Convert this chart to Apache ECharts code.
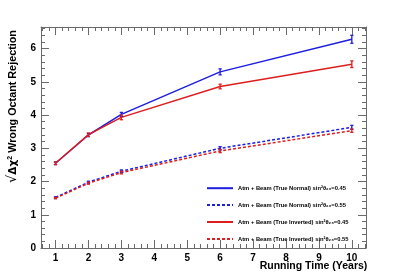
<!DOCTYPE html>
<html><head><meta charset="utf-8">
<script src="https://cdn.jsdelivr.net/npm/echarts@6/dist/echarts.min.js"></script>
<style>html,body{margin:0;padding:0;background:#fff}#c{width:407px;height:276px}</style>
</head><body><div id="c"></div>
<script>
const years = [1, 2, 3, 6, 10];
const nh45 = [2.55, 3.40, 4.02, 5.30, 6.28];
const nh45Err = [0.04, 0.05, 0.06, 0.09, 0.12];
const nh55 = [1.52, 1.98, 2.31, 3.00, 3.63];
const nh55Err = [0.02, 0.03, 0.04, 0.05, 0.06];
const ih45 = [2.55, 3.41, 3.93, 4.86, 5.53];
const ih45Err = [0.04, 0.05, 0.07, 0.07, 0.10];
const ih55 = [1.50, 1.95, 2.27, 2.92, 3.53];
const ih55Err = [0.02, 0.03, 0.04, 0.05, 0.05];
const xMajor = [1,2,3,4,5,6,7,8,9,10];
const yMajor = [0,1,2,3,4,5,6];
const names = [
  'Atm + Beam (True Normal) sin²θ₂₃=0.45',
  'Atm + Beam (True Normal) sin²θ₂₃=0.55',
  'Atm + Beam (True Inverted) sin²θ₂₃=0.45',
  'Atm + Beam (True Inverted) sin²θ₂₃=0.55'
];
const BLUE = '#1e1ee0', RED = '#dc1e1e';
const XMIN = 0.56, XMAX = 10.43, YMIN = 0, YMAX = 6.65;

const xMinor = [];
for (let v = 0.6; v < XMAX; v += 0.2) { const r = Math.round(v*10)/10; if (Math.abs(r - Math.round(r)) > 0.01) xMinor.push(r); }
const yMinor = [];
for (let v = 0.2; v < YMAX; v += 0.2) { const r = Math.round(v*10)/10; if (Math.abs(r - Math.round(r)) > 0.01) yMinor.push(r); }

const axisCol = '#6a6a6a';
function xAx(pos, major, showLabel, showLine) {
  return {
    type: 'value', position: pos, min: XMIN, max: XMAX,
    axisLine: {show: showLine, onZero: false, lineStyle: {color: axisCol, width: 1}},
    axisTick: {show: true, inside: true, length: major ? 8 : 4, lineStyle: {color: axisCol}, customValues: major ? xMajor : xMinor},
    axisLabel: {show: showLabel, customValues: xMajor, margin: 5, color: '#000', fontFamily: 'Liberation Sans', fontWeight: 'bold', fontSize: 10},
    splitLine: {show: false}
  };
}
function yAx(pos, major, showLabel, showLine) {
  return {
    type: 'value', position: pos, min: YMIN, max: YMAX,
    axisLine: {show: showLine, onZero: false, lineStyle: {color: axisCol, width: 1}},
    axisTick: {show: true, inside: true, length: major ? 8 : 4, lineStyle: {color: axisCol}, customValues: major ? yMajor : yMinor},
    axisLabel: {show: showLabel, customValues: yMajor, margin: 5, color: '#000', fontFamily: 'Liberation Sans', fontWeight: 'bold', fontSize: 10},
    splitLine: {show: false}
  };
}
const xAxes = [xAx('bottom', true, true, true), xAx('bottom', false, false, false), xAx('top', true, false, true), xAx('top', false, false, false)];
xAxes[0].name = 'Running Time (Years)';
xAxes[0].nameLocation = 'middle';
xAxes[0].nameGap = 13;
xAxes[0].nameMoveOverlap = false;
xAxes[0].nameTextStyle = {fontFamily: 'Liberation Sans', fontWeight: 'bold', fontSize: 10.5, color: '#000', padding: [0, 0, 0, 220]};
const yAxes = [yAx('left', true, true, true), yAx('left', false, false, false), yAx('right', true, false, true), yAx('right', false, false, false)];
yAxes[0].name = '{sq|√}{ov|Δχ}{sup|2} Wrong Octant Rejection';
yAxes[0].nameLocation = 'middle';
yAxes[0].nameRotate = 90;
yAxes[0].nameGap = 20;
yAxes[0].nameTextStyle = {fontFamily: 'Liberation Sans', fontWeight: 'bold', fontSize: 10.8, color: '#000', padding: [0, 0, 0, 62],
  rich: {sq: {fontSize: 13, fontFamily: 'DejaVu Sans', fontWeight: 'normal', color:'#000'}, ov: {fontFamily: 'DejaVu Sans', fontSize: 10.5, color:'#000'}, sup: {fontSize: 7, verticalAlign: 'top', color:'#000', fontFamily: 'Liberation Sans'}}};

function lineSeries(name, data, color, dashed) {
  return {
    name: name, type: 'line', data: years.map((x, i) => [x, data[i]]),
    showSymbol: false, symbol: 'none', smooth: false,
    lineStyle: {color: color, width: 1.5, type: dashed ? [3, 2] : 'solid'},
    itemStyle: {color: color}, z: 3
  };
}
function errSeries(data, err, color) {
  return {
    type: 'custom', data: years.map((x, i) => [x, data[i] - err[i], data[i] + err[i]]),
    renderItem: function (params, api) {
      const x = api.value(0);
      const lo = api.coord([x, api.value(1)]);
      const hi = api.coord([x, api.value(2)]);
      const w = 1.6;
      const st = {stroke: color, lineWidth: 1.3};
      return {type: 'group', children: [
        {type: 'line', shape: {x1: lo[0], y1: lo[1], x2: hi[0], y2: hi[1]}, style: st},
        {type: 'line', shape: {x1: lo[0]-w, y1: lo[1], x2: lo[0]+w, y2: lo[1]}, style: st},
        {type: 'line', shape: {x1: hi[0]-w, y1: hi[1], x2: hi[0]+w, y2: hi[1]}, style: st}
      ]};
    },
    silent: true, z: 4
  };
}

const chart = echarts.init(document.getElementById('c'), null, {renderer: 'canvas'});
chart.setOption({
  animation: false,
  backgroundColor: '#fff',
  grid: {left: 41, right: 41, top: 27, bottom: 28, containLabel: false, outerBoundsMode: 'none'},
  xAxis: xAxes,
  yAxis: yAxes,
  legend: {
    orient: 'vertical', left: 201, top: 180, itemGap: 10.5, itemWidth: 26, itemHeight: 8,
    data: names,
    itemStyle: {opacity: 0},
    textStyle: {fontFamily: 'Liberation Sans', fontWeight: 'bold', fontSize: 5.8, color: '#000'}
  },
  series: [
    lineSeries(names[0], nh45, BLUE, false),
    lineSeries(names[1], nh55, BLUE, true),
    lineSeries(names[2], ih45, RED, false),
    lineSeries(names[3], ih55, RED, true),
    errSeries(nh45, nh45Err, BLUE),
    errSeries(nh55, nh55Err, BLUE),
    errSeries(ih45, ih45Err, RED),
    errSeries(ih55, ih55Err, RED)
  ]
});
</script></body></html>
